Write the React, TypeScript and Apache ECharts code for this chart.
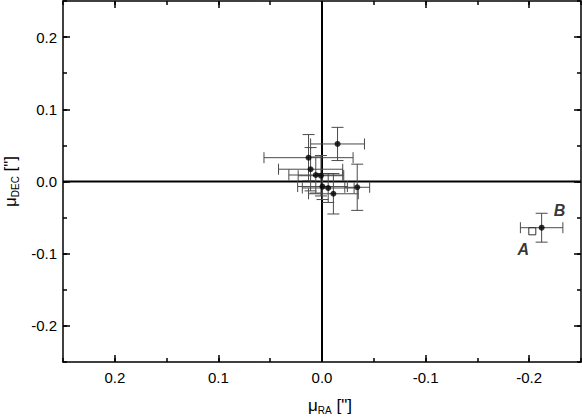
import React, { useEffect, useRef } from "react";
import * as echarts from "echarts";

// Proper motions (arcsec) of field stars, with 1-sigma errors
const clusterRA = [-0.015, 0.013, 0.011, 0.006, 0.001, -0.0005, -0.006, -0.011, -0.034];
const clusterDEC = [0.052, 0.033, 0.017, 0.009, 0.008, -0.007, -0.009, -0.017, -0.008];
const clusterErrRA = [0.026, 0.043, 0.031, 0.026, 0.022, 0.024, 0.025, 0.024, 0.012];
const clusterErrDEC = [0.023, 0.032, 0.030, 0.025, 0.028, 0.018, 0.02, 0.028, 0.032];

// Component B (filled) and A (open square)
const starB = [-0.212, -0.064];
const starBErr = [0.0205, 0.02];
const starA = [-0.203, -0.069];

const axisMin = -0.25;
const axisMax = 0.25;
const minorStep = 0.05;
const majorMin = -0.2;
const majorMax = 0.2;
const majorStep = 0.1;

const FONT = "Liberation Sans, Arial, Helvetica, sans-serif";

export default function App() {
  const ref = useRef<HTMLDivElement>(null);

  useEffect(() => {
    if (!ref.current) return;
    const chart = echarts.init(ref.current, undefined, { renderer: "svg" });

    const errData = clusterRA.map((x, i) => [x, clusterDEC[i], clusterErrRA[i], clusterErrDEC[i]]);
    errData.push([starB[0], starB[1], starBErr[0], starBErr[1]]);
    const pointData = clusterRA.map((x, i) => [x, clusterDEC[i]]);

    const gl = 63, gt = 1, gw = 518, gh = 361;
    const pxX = gw / (axisMax - axisMin);
    const pxY = gh / (axisMax - axisMin);
    const dx = (majorMin - axisMin) * pxX;
    const dy = (axisMax - majorMax) * pxY;

    const line = { show: true, onZero: false, lineStyle: { color: "#000", width: 1.5 } };
    const noLine = { show: false, onZero: false };
    const minorTick = { show: true, inside: true, length: 4, lineStyle: { color: "#000", width: 1.5 } };
    const majorTick = { show: true, inside: true, length: 7, lineStyle: { color: "#000", width: 1.5 } };
    const labelStyle = {
      show: true,
      color: "#000",
      fontSize: 15,
      fontFamily: FONT,
      formatter: (v: number) => (Math.abs(v) < 1e-9 ? "0.0" : v.toFixed(1)),
    };
    const richName = {
      m: { fontSize: 17, fontFamily: FONT, color: "#000", lineHeight: 20 },
      s: { fontSize: 10, fontFamily: FONT, color: "#000", lineHeight: 20, verticalAlign: "bottom" },
    };

    const minorX = (pos: string) => ({
      type: "value", gridIndex: 0, position: pos, min: axisMin, max: axisMax, interval: minorStep,
      inverse: true, axisLine: line, axisTick: minorTick, axisLabel: { show: false }, splitLine: { show: false },
    });
    const minorY = (pos: string) => ({
      type: "value", gridIndex: 0, position: pos, min: axisMin, max: axisMax, interval: minorStep,
      axisLine: line, axisTick: minorTick, axisLabel: { show: false }, splitLine: { show: false },
    });
    const gridBase = { containLabel: false, outerBoundsMode: "none" };

    chart.setOption({
      animation: false,
      backgroundColor: "#fff",
      grid: [
        { ...gridBase, left: gl, top: gt, width: gw, height: gh },
        { ...gridBase, left: gl + dx, top: gt, width: gw - 2 * dx, height: gh },
        { ...gridBase, left: gl, top: gt + dy, width: gw, height: gh - 2 * dy },
      ],
      xAxis: [
        minorX("bottom"),
        minorX("top"),
        {
          type: "value", gridIndex: 1, position: "bottom", min: majorMin, max: majorMax, interval: majorStep,
          inverse: true, axisLine: noLine, axisTick: majorTick, axisLabel: { ...labelStyle, margin: 8 },
          splitLine: { show: false },
          name: '{m|μ}{s|RA}{m| ["]}', nameLocation: "middle", nameGap: 33,
          nameTextStyle: { rich: richName, padding: [0, 0, 0, 16] },
        },
        {
          type: "value", gridIndex: 1, position: "top", min: majorMin, max: majorMax, interval: majorStep,
          inverse: true, axisLine: noLine, axisTick: majorTick, axisLabel: { show: false }, splitLine: { show: false },
        },
        { type: "value", gridIndex: 2, show: false, min: axisMin, max: axisMax, axisLine: noLine },
      ],
      yAxis: [
        minorY("left"),
        minorY("right"),
        { type: "value", gridIndex: 1, show: false, min: axisMin, max: axisMax, axisLine: noLine },
        {
          type: "value", gridIndex: 2, position: "left", min: majorMin, max: majorMax, interval: majorStep,
          axisLine: noLine, axisTick: majorTick, axisLabel: { ...labelStyle, margin: 6 }, splitLine: { show: false },
          name: '{m|μ}{s|DEC}{m| ["]}', nameLocation: "middle", nameGap: 38, nameRotate: 90,
          nameTextStyle: { rich: richName },
        },
        {
          type: "value", gridIndex: 2, position: "right", min: majorMin, max: majorMax, interval: majorStep,
          axisLine: noLine, axisTick: majorTick, axisLabel: { show: false }, splitLine: { show: false },
        },
      ],
      series: [
        {
          type: "line", xAxisIndex: 0, yAxisIndex: 0, silent: true, symbol: "none",
          data: [[0, axisMin], [0, axisMax]], lineStyle: { color: "#000", width: 2 }, z: 1,
        },
        {
          type: "line", xAxisIndex: 0, yAxisIndex: 0, silent: true, symbol: "none",
          data: [[axisMin, 0], [axisMax, 0]], lineStyle: { color: "#000", width: 2 }, z: 1,
        },
        {
          type: "custom", xAxisIndex: 0, yAxisIndex: 0, silent: true, z: 2,
          encode: { x: 0, y: 1 },
          data: errData,
          renderItem: (_params: any, api: any) => {
            const x = api.value(0), y = api.value(1), ex = api.value(2), ey = api.value(3);
            const L = api.coord([x + ex, y]);
            const R = api.coord([x - ex, y]);
            const T = api.coord([x, y + ey]);
            const Bt = api.coord([x, y - ey]);
            const style = { stroke: "#4a4a4a", lineWidth: 1, fill: null };
            const capH = 5.5, capV = 6;
            const ln = (x1: number, y1: number, x2: number, y2: number) => ({
              type: "line", shape: { x1, y1, x2, y2 }, style,
            });
            return {
              type: "group",
              children: [
                ln(L[0], L[1], R[0], R[1]),
                ln(L[0], L[1] - capH, L[0], L[1] + capH),
                ln(R[0], R[1] - capH, R[0], R[1] + capH),
                ln(T[0], T[1], Bt[0], Bt[1]),
                ln(T[0] - capV, T[1], T[0] + capV, T[1]),
                ln(Bt[0] - capV, Bt[1], Bt[0] + capV, Bt[1]),
              ],
            };
          },
        },
        {
          type: "scatter", xAxisIndex: 0, yAxisIndex: 0, silent: true, z: 3,
          symbol: "circle", symbolSize: 6, itemStyle: { color: "#000" },
          data: pointData,
        },
        {
          type: "scatter", xAxisIndex: 0, yAxisIndex: 0, silent: true, z: 3,
          symbol: "circle", symbolSize: 6, itemStyle: { color: "#000" },
          data: [starB],
          label: {
            show: true, formatter: "B", position: "inside", offset: [18, -17],
            fontSize: 16, fontWeight: "bold", fontStyle: "italic", fontFamily: FONT, color: "#000",
          },
        },
        {
          type: "scatter", xAxisIndex: 0, yAxisIndex: 0, silent: true, z: 3,
          symbol: "rect", symbolSize: 7,
          itemStyle: { color: "#fff", borderColor: "#000", borderWidth: 1 },
          data: [starA],
          label: {
            show: true, formatter: "A", position: "inside", offset: [-9, 18],
            fontSize: 16, fontWeight: "bold", fontStyle: "italic", fontFamily: FONT, color: "#000",
          },
        },
      ],
    });

    return () => chart.dispose();
  }, []);

  return (
    <div
      ref={ref}
      style={{ position: "fixed", left: 0, top: 0, width: 582, height: 417, background: "#fff" }}
    />
  );
}
